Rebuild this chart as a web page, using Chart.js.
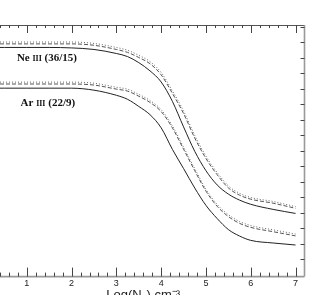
<!DOCTYPE html>
<html>
<head>
<meta charset="utf-8">
<script src="https://cdn.jsdelivr.net/npm/chart.js@4.4.1/dist/chart.umd.min.js"></script>
<style>
html, body { margin:0; padding:0; background:#fff; overflow:hidden; width:317px; height:295px; }
#wrap { position:absolute; left:-18px; top:0; width:335px; height:303px; }
</style>
</head>
<body>
<div id="wrap"><canvas id="chart"></canvas></div>
<script>
// log electron density grid
const logNe = [0, 0.5, 1, 1.5, 2, 2.5, 3, 3.25, 3.5, 3.75, 4, 4.25, 4.5, 4.75, 5, 5.25, 5.5, 5.75, 6, 6.5, 7];

// Ne III (36/15)
const neSolid  = [13.68, 13.68, 13.68, 13.68, 13.65, 13.55, 13.29, 13.09, 12.70, 12.17, 11.45, 10.20, 8.55, 6.97, 5.72, 4.80, 4.21, 3.82, 3.55, 3.22, 2.96];
const neDashed = [13.91, 13.91, 13.91, 13.91, 13.91, 13.82, 13.55, 13.36, 13.03, 12.63, 11.91, 10.72, 9.41, 7.83, 6.51, 5.46, 4.61, 4.14, 3.88, 3.62, 3.29];
const neDotted = [14.03, 14.03, 14.03, 14.03, 14.03, 13.94, 13.68, 13.50, 13.17, 12.77, 12.06, 10.88, 9.58, 8.00, 6.66, 5.60, 4.74, 4.26, 3.99, 3.73, 3.40];

// Ar III (22/9)
const arSolid  = [11.05, 11.05, 11.05, 11.05, 11.05, 10.92, 10.59, 10.33, 9.87, 9.34, 8.49, 7.10, 5.86, 4.60, 3.48, 2.63, 1.92, 1.50, 1.22, 1.05, 0.92];
const arDashed = [11.32, 11.32, 11.32, 11.32, 11.32, 11.25, 10.99, 10.86, 10.53, 10.13, 9.54, 8.49, 7.11, 5.72, 4.40, 3.42, 2.76, 2.32, 2.06, 1.78, 1.51];
const arDotted = [11.44, 11.44, 11.44, 11.44, 11.44, 11.37, 11.11, 10.98, 10.65, 10.25, 9.66, 8.62, 7.24, 5.85, 4.52, 3.54, 2.88, 2.44, 2.18, 1.90, 1.63];

// axis ticks
const xTickLabels = [1, 2, 3, 4, 5, 6, 7];
const yTickValues = [0, 1, 2, 3, 4, 5, 6, 7, 8, 9, 10, 11, 12, 13, 14, 15];

// curve labels
const ionElement = ['Ne', 'Ar'];
const ionStage = ['III', 'III'];
const ionRatio = ['(36/15)', '(22/9)'];
const ionLabelX = [1.45, 1.47];
const ionLabelY = [13.0, 10.07];

const pts = arr => logNe.map((x, i) => ({ x: x, y: arr[i] }));

function line(arr, dash, color) {
    return {
        data: pts(arr),
        borderColor: color,
        borderWidth: 1,
        borderDash: dash,
        pointRadius: 0,
        cubicInterpolationMode: 'monotone',
        fill: false
    };
}

const frame = {
    id: 'frame',
    afterDraw(chart) {
        const ctx = chart.ctx;
        const a = chart.chartArea;
        const xs = chart.scales.x, ys = chart.scales.y;
        ctx.save();
        // borders
        ctx.strokeStyle = '#555';
        ctx.lineWidth = 1;
        ctx.beginPath();
        ctx.moveTo(a.left, a.top + 0.5); ctx.lineTo(a.right, a.top + 0.5);
        ctx.stroke();
        ctx.strokeStyle = '#999';
        ctx.lineWidth = 1.6;
        ctx.beginPath();
        ctx.moveTo(a.left, a.bottom); ctx.lineTo(a.right, a.bottom);
        ctx.moveTo(a.right, a.top); ctx.lineTo(a.right, a.bottom);
        ctx.stroke();
        // x ticks, top and bottom
        ctx.strokeStyle = '#444';
        ctx.lineWidth = 1;
        ctx.beginPath();
        for (let k = 0; k <= 36; k++) {
            const v = k * 0.2;
            const px = Math.round(xs.getPixelForValue(v)) + 0.5;
            if (px < a.left || px > a.right - 1) continue;
            const major = k % 5 === 0;
            ctx.moveTo(px, a.bottom); ctx.lineTo(px, a.bottom - (major ? 9 : 4));
            ctx.moveTo(px, a.top); ctx.lineTo(px, a.top + (major ? 8 : 3));
        }
        // y ticks on the right
        yTickValues.forEach(v => {
            const py = Math.round(ys.getPixelForValue(v)) + 0.5;
            ctx.moveTo(a.right, py); ctx.lineTo(a.right - 4, py);
        });
        ctx.stroke();
        // curve labels
        ctx.fillStyle = '#111';
        ctx.textBaseline = 'middle';
        ionElement.forEach((el, i) => {
            const big = 'bold 11px "Liberation Serif", "DejaVu Serif", serif';
            const small = 'bold 8px "Liberation Serif", "DejaVu Serif", serif';
            ctx.font = big;
            const w1 = ctx.measureText(el + ' ').width;
            const w3 = ctx.measureText(' ' + ionRatio[i]).width;
            ctx.font = small;
            const w2 = ctx.measureText(ionStage[i]).width;
            const cx = xs.getPixelForValue(ionLabelX[i]);
            const cy = ys.getPixelForValue(ionLabelY[i]);
            let x0 = cx - (w1 + w2 + w3) / 2;
            ctx.textAlign = 'left';
            ctx.font = big;
            ctx.fillText(el + ' ', x0, cy);
            ctx.font = small;
            ctx.fillText(ionStage[i], x0 + w1, cy + 1);
            ctx.font = big;
            ctx.fillText(' ' + ionRatio[i], x0 + w1 + w2, cy);
        });
        ctx.restore();
    }
};

new Chart(document.getElementById('chart'), {
    type: 'line',
    data: {
        datasets: [
            line(neSolid, [], '#222'),
            line(neDashed, [4, 2], '#555'),
            line(neDotted, [1, 2], '#666'),
            line(arSolid, [], '#222'),
            line(arDashed, [4, 2], '#555'),
            line(arDotted, [1, 2], '#666')
        ]
    },
    options: {
        responsive: true,
        maintainAspectRatio: false,
        animation: false,
        layout: { padding: { left: 0, right: 12.5, top: 25, bottom: 0 } },
        plugins: { legend: { display: false }, tooltip: { enabled: false } },
        scales: {
            x: {
                type: 'linear',
                min: 0,
                max: 7.2,
                afterBuildTicks: s => { s.ticks = xTickLabels.map(v => ({ value: v })); },
                grid: { display: false, drawTicks: false },
                border: { display: false },
                ticks: {
                    padding: 2,
                    maxRotation: 0,
                    color: '#222',
                    font: { family: '"Liberation Sans", Arial, sans-serif', size: 9 }
                },
                title: {
                    display: true,
                    text: 'Log(Nₑ) cm⁻³',
                    color: '#222',
                    padding: { top: -4, bottom: 0 },
                    font: { family: '"Liberation Sans", Arial, sans-serif', size: 13 }
                }
            },
            y: {
                type: 'linear',
                display: false,
                min: -1.12,
                max: 15.13
            }
        }
    },
    plugins: [frame]
});
</script>
</body>
</html>
